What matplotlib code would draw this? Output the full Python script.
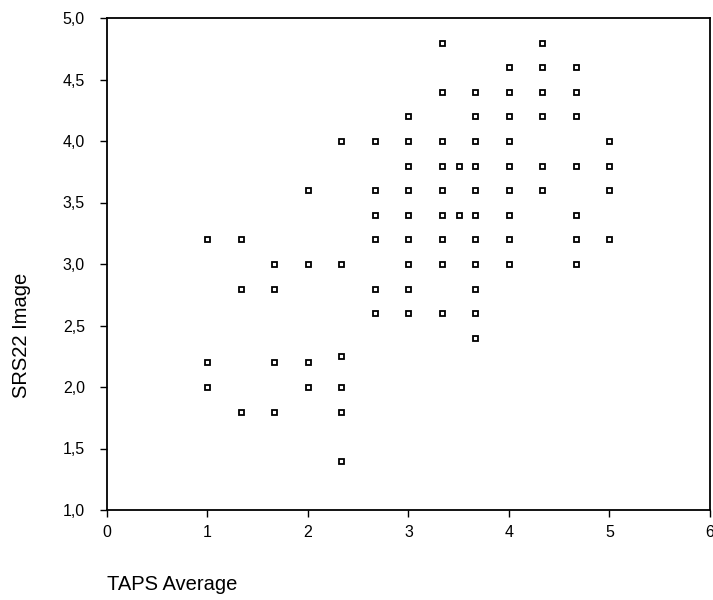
import matplotlib
matplotlib.use("Agg")
import matplotlib.pyplot as plt
from matplotlib.ticker import FuncFormatter

plt.rcParams['font.family'] = ['Liberation Sans', 'DejaVu Sans']

t = 1/3
x1 = [1, 1, 1]
y1 = [3.2, 2.2, 2.0]
x2 = [1+t]*3
y2 = [3.2, 2.8, 1.8]
x3 = [1+2*t]*4
y3 = [3.0, 2.8, 2.2, 1.8]
x4 = [2]*4
y4 = [3.6, 3.0, 2.2, 2.0]
x5 = [2+t]*6
y5 = [4.0, 3.0, 2.25, 2.0, 1.8, 1.4]
x6 = [2+2*t]*6
y6 = [4.0, 3.6, 3.4, 3.2, 2.8, 2.6]
x7 = [3]*9
y7 = [4.2, 4.0, 3.8, 3.6, 3.4, 3.2, 3.0, 2.8, 2.6]
x8 = [3+t]*9
y8 = [4.8, 4.4, 4.0, 3.8, 3.6, 3.4, 3.2, 3.0, 2.6]
x9 = [3.5]*2
y9 = [3.8, 3.4]
x10 = [3+2*t]*11
y10 = [4.4, 4.2, 4.0, 3.8, 3.6, 3.4, 3.2, 3.0, 2.8, 2.6, 2.4]
x11 = [4]*9
y11 = [4.6, 4.4, 4.2, 4.0, 3.8, 3.6, 3.4, 3.2, 3.0]
x12 = [4+t]*6
y12 = [4.8, 4.6, 4.4, 4.2, 3.8, 3.6]
x13 = [4+2*t]*7
y13 = [4.6, 4.4, 4.2, 3.8, 3.4, 3.2, 3.0]
x14 = [5]*4
y14 = [4.0, 3.8, 3.6, 3.2]

xs = x1+x2+x3+x4+x5+x6+x7+x8+x9+x10+x11+x12+x13+x14
ys = y1+y2+y3+y4+y5+y6+y7+y8+y9+y10+y11+y12+y13+y14

xticks = [0, 1, 2, 3, 4, 5, 6]
yticks = [1.0, 1.5, 2.0, 2.5, 3.0, 3.5, 4.0, 4.5, 5.0]

W, H = 713, 600
fig = plt.figure(figsize=(W/100, H/100), dpi=100)
L, R, T, B = 107, 710, 18, 510
ax = fig.add_axes([L/W, 1-B/H, (R-L)/W, (B-T)/H])
ax.plot(xs, ys, linestyle='none', marker='s', markersize=3.6,
        markerfacecolor='white', markeredgecolor='black', markeredgewidth=1.3)
ax.set_xlim(0, 6)
ax.set_ylim(1.0, 5.0)
ax.set_xticks(xticks)
ax.set_yticks(yticks)
ax.yaxis.set_major_formatter(FuncFormatter(lambda v, p: f"{v:.1f}".replace('.', ',')))
ax.tick_params(direction='out', length=5, width=1, labelsize=11.5, color='black')
ax.tick_params(axis='y', pad=11)
ax.tick_params(axis='x', pad=6)
for s in ax.spines.values():
    s.set_linewidth(1.3)

fig.text(107/W, 1-585/H, "TAPS Average", fontsize=14.5, ha='left', va='center')
fig.text(22/W, 1-335/H, "SRS22 Image", fontsize=14.5, ha='center', va='center', rotation=90)

fig.savefig("out.png", dpi=100)
